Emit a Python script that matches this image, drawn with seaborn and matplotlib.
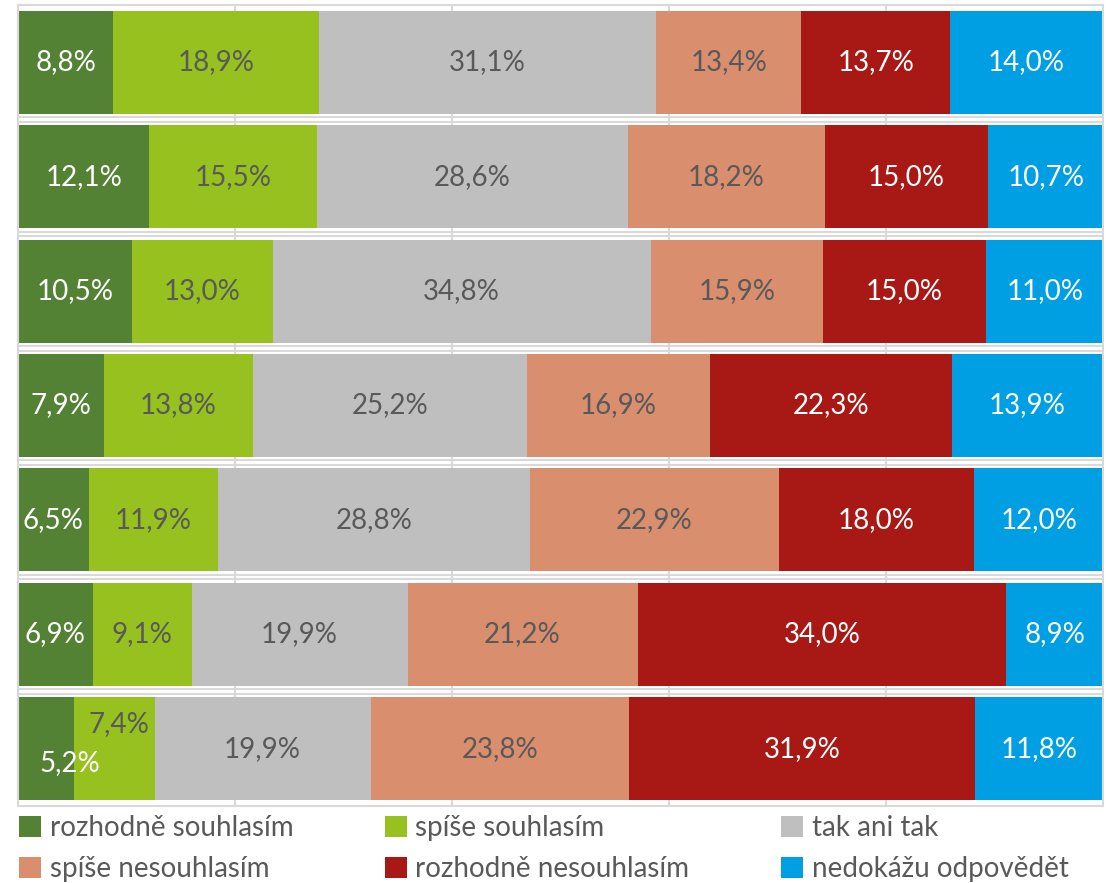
import numpy as np
import pandas as pd
import matplotlib.pyplot as plt
import seaborn as sns
from matplotlib.patches import Patch

sns.set_theme(style="white")
plt.rcParams['font.family'] = ['Lato', 'DejaVu Sans']

# one bar per row, top to bottom
rows = ["1", "2", "3", "4", "5", "6", "7"]

rozhodne_souhlasim = [8.8, 12.1, 10.5, 7.9, 6.5, 6.9, 5.2]
spise_souhlasim = [18.9, 15.5, 13.0, 13.8, 11.9, 9.1, 7.4]
tak_ani_tak = [31.1, 28.6, 34.8, 25.2, 28.8, 19.9, 19.9]
spise_nesouhlasim = [13.4, 18.2, 15.9, 16.9, 22.9, 21.2, 23.8]
rozhodne_nesouhlasim = [13.7, 15.0, 15.0, 22.3, 18.0, 34.0, 31.9]
nedokazu_odpovedet = [14.0, 10.7, 11.0, 13.9, 12.0, 8.9, 11.8]

series_names = ["rozhodně souhlasím", "spíše souhlasím", "tak ani tak",
                "spíše nesouhlasím", "rozhodně nesouhlasím", "nedokážu odpovědět"]
series = [rozhodne_souhlasim, spise_souhlasim, tak_ani_tak,
          spise_nesouhlasim, rozhodne_nesouhlasim, nedokazu_odpovedet]

colors = ['#548235', '#96C11F', '#BFBFBF', '#D98E6E', '#A81916', '#009FE3']
text_colors = ['white', '#595959', '#595959', '#595959', 'white', 'white']
GRID = '#D9D9D9'

df = pd.DataFrame(dict(zip(series_names, series)), index=rows)
cum = df.cumsum(axis=1)

fig, ax = plt.subplots(figsize=(11.06, 8.83), dpi=100)
fig.subplots_adjust(left=18 / 1106, right=1103 / 1106, top=1 - 5 / 883, bottom=1 - 806 / 883)

# stacked bars: draw the cumulative totals from the widest to the narrowest
for name, color in reversed(list(zip(series_names, colors))):
    sns.barplot(x=cum[name].values, y=rows, color=color, orient='h',
                width=0.9, saturation=1, linewidth=0, ax=ax, zorder=2)

ax.set_xlim(0, 100)
ax.set_xticks(np.arange(0, 101, 20))
ax.set_xticklabels([])
ax.set_yticks([])
ax.set_xlabel('')
ax.set_ylabel('')
ax.grid(axis='x', color=GRID, lw=1.5, zorder=0)
ax.set_axisbelow(True)
for k in range(len(rows) - 1):
    for d in (-0.02, 0.02):
        ax.axhline(k + 0.5 + d, color=GRID, lw=1.5, zorder=0)
for sp in ax.spines.values():
    sp.set_color(GRID)
    sp.set_linewidth(1.5)

# labels moved by hand in the original (last row)
label_offsets = {(6, 0): (17, -10), (6, 1): (3, 18)}

for i, row in enumerate(rows):
    for j, name in enumerate(series_names):
        val = df.loc[row, name]
        x = cum.loc[row, name] - val / 2
        txt = f"{val:.1f}".replace('.', ',') + '%'
        ax.annotate(txt, (x, i), xytext=label_offsets.get((i, j), (0, 0)),
                    textcoords='offset points', ha='center', va='center',
                    color=text_colors[j], fontsize=20, zorder=3)

order = [0, 3, 1, 4, 2, 5]
handles = [Patch(facecolor=colors[k], edgecolor='none') for k in order]
labels = [series_names[k] for k in order]
fig.legend(handles, labels, loc='upper left', bbox_to_anchor=(19 / 1106, 1 - 815 / 883),
           ncol=3, frameon=False, labelcolor='#595959',
           handlelength=0.8, handleheight=0.8, handletextpad=0.3,
           columnspacing=3.3, borderpad=0, borderaxespad=0, labelspacing=0.55,
           prop={'size': 20})

fig.savefig('out.png', dpi=100)
